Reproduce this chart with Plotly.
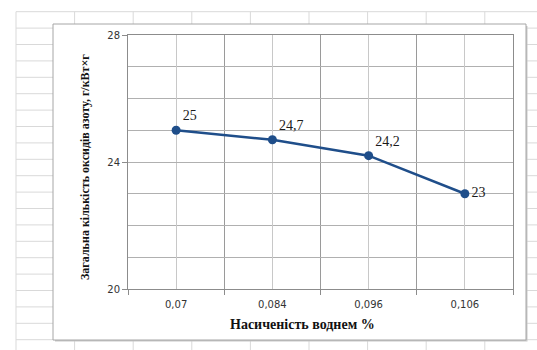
import plotly.graph_objects as go

# Hydrogen saturation (%) and total nitrogen oxides, g/kW·h
categories = ["0,07", "0,084", "0,096", "0,106"]
nox_values = [25, 24.7, 24.2, 23]
label_positions = ["top right", "top right", "top right", "middle right"]

W, H = 537, 350
ML, MR, MT, MB = 128, 24, 35, 61
PW, PH = W - ML - MR, H - MT - MB


def px_x(px):
    return (px - ML) / PW


def px_y(py):
    return (H - MB - py) / PH


x_pos = list(range(len(categories)))
labels = [f"{v:g}".replace(".", ",") for v in nox_values]

line_blue = "#1F4E8A"

fig = go.Figure()
fig.add_trace(go.Scatter(
    x=x_pos, y=nox_values,
    mode="lines+markers+text",
    line=dict(color=line_blue, width=2.5),
    marker=dict(color=line_blue, size=9),
    text=labels,
    textposition=label_positions,
    textfont=dict(family="Liberation Serif, Times New Roman, serif", size=14, color="#1a1a1a"),
    cliponaxis=False,
    hoverinfo="skip",
))

shapes = []
# worksheet cell grid behind the chart
grid_col = "#d9d9d9"
y0 = 11.7
row_h = 16.4
k = 0
while y0 + k * row_h <= H:
    yy = y0 + k * row_h
    shapes.append(dict(type="line", xref="paper", yref="paper", layer="below",
                       x0=px_x(16), x1=px_x(W + 5), y0=px_y(yy), y1=px_y(yy),
                       line=dict(color=grid_col, width=1)))
    k += 1
col_w = 58.6
k = 0
while 16 + k * col_w <= W:
    xx = 16 + k * col_w
    shapes.append(dict(type="line", xref="paper", yref="paper", layer="below",
                       x0=px_x(xx), x1=px_x(xx), y0=px_y(y0), y1=px_y(H + 5),
                       line=dict(color=grid_col, width=1)))
    k += 1

# chart area: soft shadow and white panel with border
shapes.append(dict(type="rect", xref="paper", yref="paper", layer="below",
                   x0=px_x(55), x1=px_x(527.5), y0=px_y(341.5), y1=px_y(26),
                   fillcolor="#c8c8c8", line=dict(width=0)))
shapes.append(dict(type="rect", xref="paper", yref="paper", layer="below",
                   x0=px_x(53), x1=px_x(526), y0=px_y(340), y1=px_y(24),
                   fillcolor="white", line=dict(color="#a6a6a6", width=1)))

annotations = [
    dict(text="<b>Насиченість воднем %</b>", xref="paper", yref="paper",
         x=px_x(302), y=px_y(324), xanchor="center", yanchor="middle",
         showarrow=False, font=dict(family="Liberation Serif", size=14, color="#111111")),
    dict(text="<b>Загальна кількість оксидів азоту, г/кВт×г</b>", xref="paper", yref="paper",
         x=px_x(85), y=px_y(167), xanchor="center", yanchor="middle", textangle=-90,
         showarrow=False, font=dict(family="Liberation Serif", size=12, color="#111111")),
]

fig.update_layout(
    width=W, height=H,
    margin=dict(l=ML, r=MR, t=MT, b=MB),
    paper_bgcolor="white",
    plot_bgcolor="rgba(0,0,0,0)",
    showlegend=False,
    shapes=shapes,
    annotations=annotations,
    xaxis=dict(
        range=[-0.5, len(categories) - 0.5],
        tickmode="array", tickvals=x_pos, ticktext=categories,
        ticks="", showgrid=True, gridcolor="#c8c8c8", gridwidth=1,
        showline=True, linecolor="#8c8c8c", linewidth=1, mirror=True,
        zeroline=False,
        tickfont=dict(family="DejaVu Sans", size=10, color="#333333"),
        ticklabelstandoff=6,
        minor=dict(tick0=0.5, dtick=1, showgrid=True, gridcolor="#9a9a9a",
                   gridwidth=1, ticks="outside", ticklen=5, tickcolor="#8c8c8c"),
    ),
    yaxis=dict(
        range=[20, 28], dtick=4, tick0=20,
        ticks="outside", ticklen=5, tickcolor="#8c8c8c",
        showgrid=True, gridcolor="#b0b0b0", gridwidth=1,
        showline=True, linecolor="#8c8c8c", linewidth=1, mirror=True,
        zeroline=False,
        tickfont=dict(family="DejaVu Sans", size=10, color="#333333"),
        minor=dict(dtick=1, showgrid=True, gridcolor="#b0b0b0", gridwidth=1),
    ),
)

fig.write_html("out.html")
